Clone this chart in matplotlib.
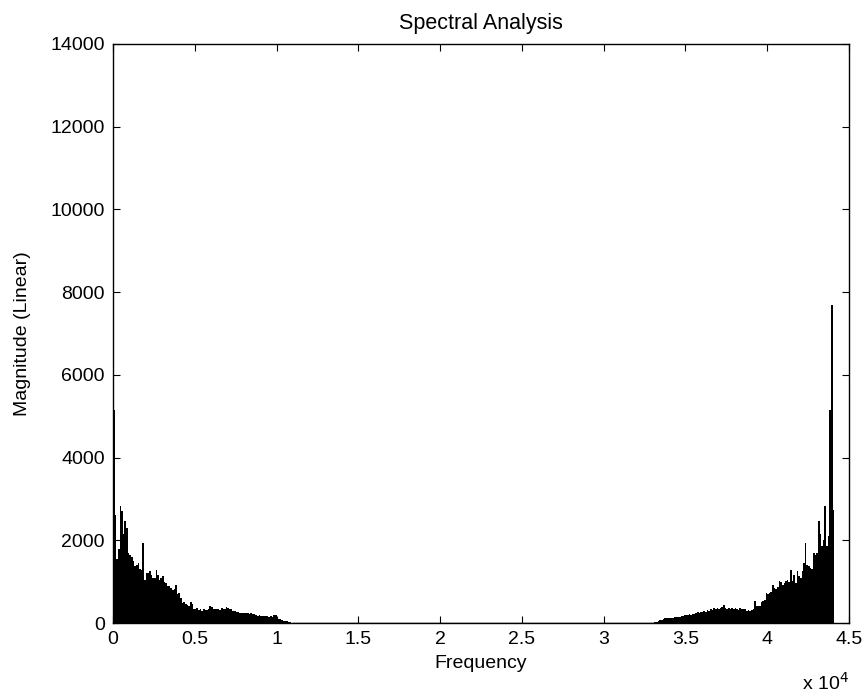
import matplotlib
matplotlib.use("Agg")
import matplotlib.pyplot as plt
from matplotlib.ticker import FuncFormatter
import numpy as np

# spectrum magnitudes, one value per 100 Hz bin
bin_width = 100
low_start = 0
low_mag = [5150, 2600, 1550, 1800, 2820, 2700, 2150, 2460, 2300, 1700,
           1650, 1600, 1500, 1370, 1400, 1450, 1300, 1290, 1930, 1050,
           1200, 1210, 1250, 1150, 1090, 1100, 1290, 1150, 1050, 1100,
           1130, 1000, 970, 900, 890, 850, 810, 830, 930, 700,
           730, 600, 480, 500, 470, 440, 420, 500, 450, 350,
           330, 360, 320, 330, 300, 340, 320, 310, 330, 420,
           380, 340, 330, 350, 340, 320, 360, 340, 330, 380,
           370, 350, 330, 300, 280, 270, 260, 250, 240, 240,
           230, 240, 230, 220, 230, 220, 210, 200, 180, 190,
           170, 180, 170, 160, 170, 150, 160, 150, 200, 190,
           140, 100, 90, 80, 60, 40, 40, 30, 20, 10, 5]

high_start = 33000
high_mag = [10, 15, 20, 40, 65, 70, 90, 120, 115, 125,
            120, 130, 125, 140, 145, 150, 140, 160, 170, 200,
            190, 200, 210, 200, 220, 210, 230, 260, 250, 270,
            260, 280, 270, 320, 300, 330, 320, 360, 340, 370,
            350, 360, 380, 430, 360, 350, 370, 340, 360, 350,
            370, 330, 320, 360, 350, 340, 330, 300, 310, 300,
            320, 340, 530, 420, 400, 420, 500, 530, 560, 730,
            700, 730, 760, 930, 850, 830, 870, 1010, 980, 930,
            960, 1010, 1050, 1000, 1290, 1010, 1170, 970, 1250, 1130,
            1100, 1250, 1450, 1930, 1410, 1380, 1330, 1300, 1690, 1650,
            1700, 2460, 2140, 1850, 2000, 2820, 1850, 2100, 5150, 7690,
            2740]

xticks = [0, 5000, 10000, 15000, 20000, 25000, 30000, 35000, 40000, 45000]
yticks = [0, 2000, 4000, 6000, 8000, 10000, 12000, 14000]

plt.rcParams['font.family'] = ['Liberation Sans', 'DejaVu Sans']
fs = 14

fig = plt.figure(figsize=(8.66, 6.95), dpi=100)
ax = fig.add_axes([113/866, 72/695, 736/866, 579/695])

f_low = low_start + bin_width*np.arange(len(low_mag))
f_high = high_start + bin_width*np.arange(len(high_mag))
ax.bar(f_low, low_mag, width=bin_width, align='edge', color='k', linewidth=0)
ax.bar(f_high, high_mag, width=bin_width, align='edge', color='k', linewidth=0)
ax.plot([f_low[-1], f_high[0]], [0, 0], color='k', linewidth=1)

ax.set_xlim(0, 45000)
ax.set_ylim(0, 14000)
ax.set_xticks(xticks)
ax.set_yticks(yticks)
ax.xaxis.set_major_formatter(FuncFormatter(lambda v, p: ('%g' % (v/1e4))))
ax.tick_params(direction='in', length=5, top=True, right=True, labelsize=fs, pad=6)
for s in ax.spines.values():
    s.set_linewidth(1)

ax.set_title('Spectral Analysis', fontsize=15.5, pad=11)
ax.set_xlabel('Frequency', fontsize=fs, labelpad=5)
ax.set_ylabel('Magnitude (Linear)', fontsize=fs, labelpad=14)
ax.text(1.0, -0.085, r'x 10$^4$', transform=ax.transAxes, ha='right', va='top', fontsize=fs)

fig.savefig('out.png', dpi=100)
